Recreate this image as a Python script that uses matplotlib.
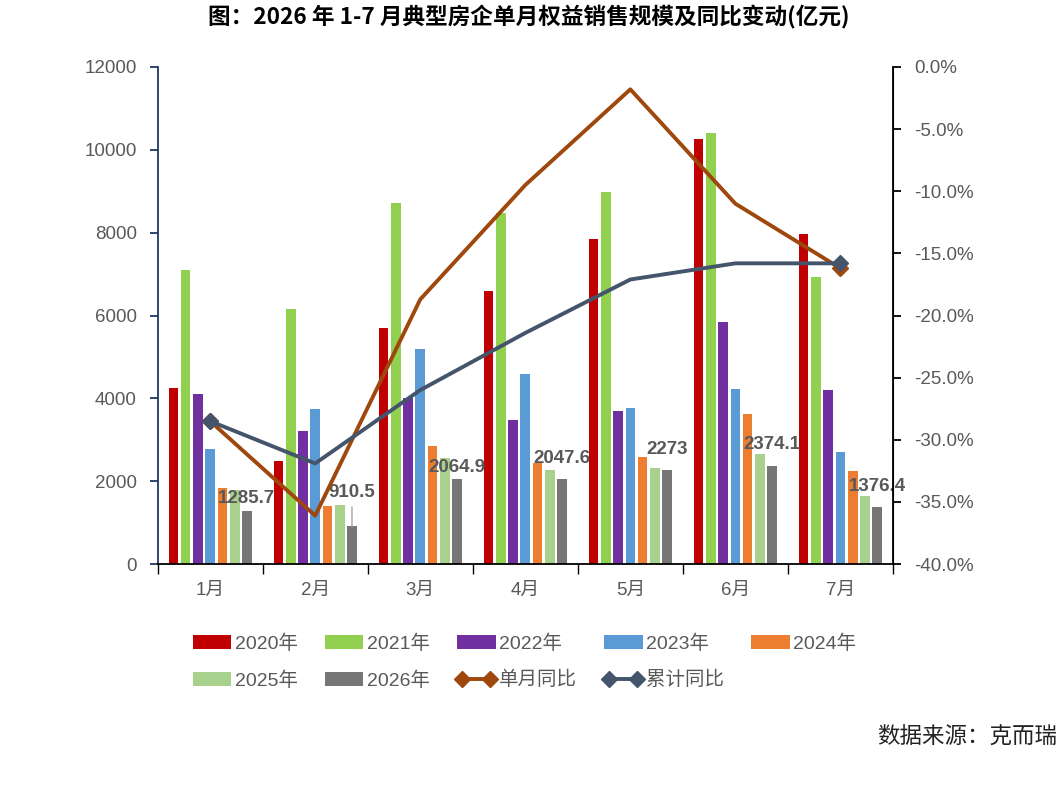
import numpy as np
import matplotlib
matplotlib.use("Agg")
import matplotlib.pyplot as plt
from matplotlib.ticker import FuncFormatter, FixedLocator

plt.rcParams['font.family'] = ['Liberation Sans', 'Noto Sans CJK SC', 'DejaVu Sans']

months = ["1月", "2月", "3月", "4月", "5月", "6月", "7月"]
years = ["2020年", "2021年", "2022年", "2023年", "2024年", "2025年", "2026年"]

sales_2020 = [4250, 2490, 5700, 6590, 7840, 10260, 7960]
sales_2021 = [7100, 6160, 8720, 8470, 8980, 10400, 6940]
sales_2022 = [4110, 3220, 4000, 3480, 3690, 5850, 4200]
sales_2023 = [2780, 3750, 5190, 4600, 3780, 4220, 2700]
sales_2024 = [1830, 1410, 2850, 2430, 2580, 3620, 2245]
sales_2025 = [1800, 1430, 2550, 2270, 2320, 2660, 1640]
sales_2026 = [1285.7, 910.5, 2064.9, 2047.6, 2273, 2374.1, 1376.4]

yoy_month = [-28.5, -36.1, -18.7, -9.5, -1.8, -11.0, -16.2]
yoy_cum = [-28.5, -31.9, -26.0, -21.4, -17.1, -15.8, -15.8]

series = [sales_2020, sales_2021, sales_2022, sales_2023, sales_2024, sales_2025, sales_2026]
colors = ["#C00000", "#92D050", "#7030A0", "#5B9BD5", "#ED7D31", "#A9D18E", "#767676"]
# label offsets above the 2026 bars (points)
label_dy = [3, 18, 1.5, 9, 8.5, 9, 8.5]

fig = plt.figure(figsize=(10.58, 8.07), dpi=100)
ax = fig.add_axes([0.149, 0.301, 0.695, 0.616])
ax2 = ax.twinx()

x = np.arange(len(months))
step = 0.1167
bw = 0.092
handles = []
for i, (vals, c, name) in enumerate(zip(series, colors, years)):
    b = ax.bar(x + (i - 3) * step, vals, width=bw, color=c, label=name, zorder=2)
    handles.append(b)

# data labels for 2026
gx = x + 3 * step
for i, v in enumerate(sales_2026):
    arrow = None
    if i == 1:
        arrow = dict(arrowstyle="-", color="#A6A6A6", lw=1, shrinkA=2, shrinkB=0)
    ax.annotate(f"{v:g}", xy=(gx[i], v), xytext=(0, label_dy[i]),
                textcoords="offset points", ha="center", va="bottom",
                fontsize=13.5, fontweight="bold", color="#595959",
                arrowprops=arrow, zorder=5)

l1, = ax2.plot(x, yoy_month, color="#9E480E", lw=2.8, marker="D", markersize=8,
               markevery=[0, 6], label="单月同比", zorder=3)
l2, = ax2.plot(x, yoy_cum, color="#44546A", lw=2.8, marker="D", markersize=8,
               markevery=[0, 6], label="累计同比", zorder=4)

ax.set_xlim(-0.5, 6.5)
ax.set_ylim(0, 12000)
ax.set_yticks(np.arange(0, 12001, 2000))
ax2.set_ylim(-40, 0)
ax2.set_yticks(np.arange(-40, 0.1, 5))
ax2.yaxis.set_major_formatter(FuncFormatter(lambda v, p: f"{v:.1f}%"))

ax.set_xticks(x)
ax.set_xticklabels(months)
ax.xaxis.set_minor_locator(FixedLocator(np.arange(-0.5, 6.6, 1)))
ax.tick_params(axis="x", which="major", length=0, pad=13, labelsize=13.5, labelcolor="#595959")
ax.tick_params(axis="x", which="minor", length=7, width=1, direction="out", color="black")
ax.tick_params(axis="y", length=6, width=1.3, pad=9, labelsize=13.5,
               labelcolor="#595959", color="#203864")
ax2.tick_params(axis="y", length=6, width=1.3, pad=9, labelsize=13.5,
                labelcolor="#595959", color="black")

for a in (ax, ax2):
    a.spines["top"].set_visible(False)
ax.spines["left"].set_color("#203864")
ax.spines["left"].set_linewidth(1.3)
ax.spines["bottom"].set_linewidth(1.3)
ax2.spines["right"].set_linewidth(1.3)
ax2.spines["left"].set_visible(False)
ax2.spines["bottom"].set_visible(False)

# legend fills column by column, so order entries to read row by row
leg_h = [handles[0], handles[5], handles[1], handles[6], handles[2], l1,
         handles[3], l2, handles[4]]
leg_l = [years[0], years[5], years[1], years[6], years[2], "单月同比",
         years[3], "累计同比", years[4]]
fig.legend(leg_h, leg_l,
           loc="upper left", bbox_to_anchor=(0.182, 0.214), ncol=5, frameon=False,
           fontsize=14, handlelength=2.0, handleheight=0.7, handletextpad=0.2,
           columnspacing=1.35, labelspacing=0.95, numpoints=2,
           borderpad=0, borderaxespad=0, labelcolor="#595959")

fig.text(0.5, 0.979, "图：2026 年 1-7 月典型房企单月权益销售规模及同比变动(亿元)",
         ha="center", va="center", fontsize=16.3, fontweight="bold",
         family=["Noto Sans CJK SC", "DejaVu Sans"])
fig.text(0.999, 0.087, "数据来源：克而瑞", ha="right", va="center", fontsize=16.2,
         color="#222222", family=["Noto Sans CJK SC", "DejaVu Sans"])

fig.savefig("out.png", dpi=100)
